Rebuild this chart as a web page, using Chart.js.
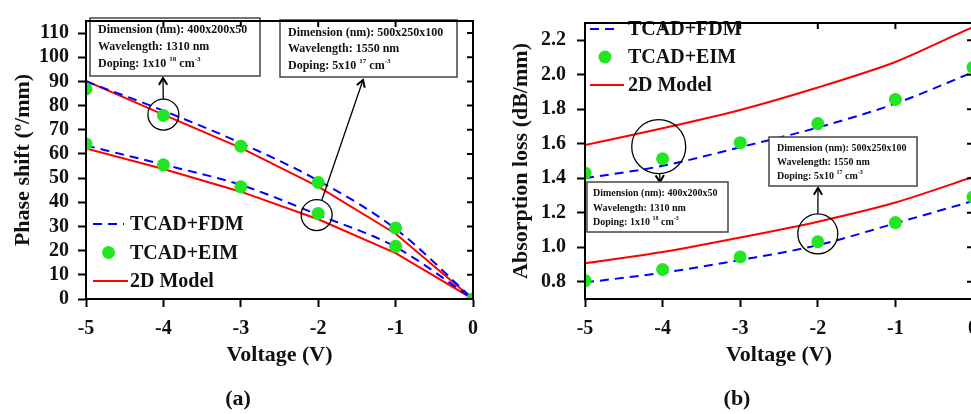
<!DOCTYPE html>
<html><head><meta charset="utf-8">
<script src="https://cdn.jsdelivr.net/npm/chart.js@4/dist/chart.umd.min.js"></script>
<style>
html,body{margin:0;padding:0;background:#fff;overflow:hidden;width:971px;height:414px;position:relative;}
#wa{position:absolute;left:0;top:0;width:490px;height:414px;}
#wb{position:absolute;left:490px;top:0;width:500px;height:414px;}
canvas{display:block;}
</style></head><body>
<div id="wa"><canvas id="ca" width="490" height="414"></canvas></div>
<div id="wb"><canvas id="cb" width="500" height="414"></canvas></div>
<script>
// ---------- data ----------
const voltages = [-5, -4, -3, -2, -1, 0];
const xTickLabels = ['-5', '-4', '-3', '-2', '-1', '0'];

// (a) Phase shift (deg/mm)
const phaseFDM1310   = [90.0, 77.9, 64.5, 49.0, 29.0, 0];
const phaseEIM1310   = [86.9, 75.9, 63.2, 48.2, 29.4, 0];
const phaseModel1310 = [90.2, 76.3, 62.5, 46.5, 27.0, 0];
const phaseFDM1550   = [63.5, 55.6, 47.2, 34.8, 21.5, 0];
const phaseEIM1550   = [64.1, 55.5, 46.4, 35.4, 21.8, 0];
const phaseModel1550 = [62.3, 53.8, 44.4, 33.0, 19.0, 0];

// (b) Absorption loss (dB/mm)
const lossFDM1310   = [1.400, 1.472, 1.580, 1.694, 1.833, 2.015];
const lossEIM1310   = [1.430, 1.513, 1.606, 1.717, 1.857, 2.043];
const lossModel1310 = [1.593, 1.690, 1.796, 1.926, 2.074, 2.278];
const lossFDM1550   = [0.796, 0.852, 0.926, 1.012, 1.139, 1.268];
const lossEIM1550   = [0.806, 0.871, 0.944, 1.032, 1.143, 1.291];
const lossModel1550 = [0.907, 0.972, 1.056, 1.148, 1.259, 1.407];

const seriesNames = ['TCAD+FDM', 'TCAD+EIM', '2D Model'];
const phaseTicks = [0, 10, 20, 30, 40, 50, 60, 70, 80, 90, 100, 110];
const lossTicks = [0.8, 1.0, 1.2, 1.4, 1.6, 1.8, 2.0, 2.2];

// ---------- styles ----------
const FONT = "'Liberation Serif','Times New Roman',serif";
const RED = '#ff0000', BLUE = '#0000ff', GREEN = '#22e622';
const DASH = [9, 6];

const pts = arr => voltages.map((v, i) => ({x: v, y: arr[i]}));
function eim(arr) {
  return {label: seriesNames[1], data: pts(arr), showLine: false, pointRadius: 6.5,
    pointBackgroundColor: GREEN, pointBorderColor: GREEN, pointBorderWidth: 0, clip: 0};
}
function fdm(arr) {
  return {label: seriesNames[0], data: pts(arr), borderColor: BLUE, borderWidth: 2,
    borderDash: DASH, pointRadius: 0, cubicInterpolationMode: 'monotone', fill: false, clip: 0};
}
function model(arr, tension) {
  return {label: seriesNames[2], data: pts(arr), borderColor: RED, borderWidth: 2,
    pointRadius: 0, tension: tension, fill: false, clip: 0};
}

function drawRich(ctx, x, y, parts, size) {
  let cx = x;
  for (const [t, sup] of parts) {
    const s = sup ? Math.round(size * 0.62) : size;
    ctx.font = `bold ${s}px ${FONT}`;
    ctx.fillText(t, cx, sup ? y - size * 0.36 : y);
    cx += ctx.measureText(t).width;
  }
}
function arrowHead(ctx, x1, y1, x2, y2, len) {
  const ang = Math.atan2(y2 - y1, x2 - x1);
  ctx.beginPath();
  ctx.moveTo(x2 - len * Math.cos(ang - 0.55), y2 - len * Math.sin(ang - 0.55));
  ctx.lineTo(x2, y2);
  ctx.lineTo(x2 - len * Math.cos(ang + 0.55), y2 - len * Math.sin(ang + 0.55));
  ctx.stroke();
}

const decorPlugin = {
  id: 'decor',
  afterDatasetsDraw(chart, args, o) {
    const {ctx, chartArea: a, scales: {x, y}} = chart;
    ctx.save();
    // annotation circles + arrows
    ctx.strokeStyle = '#000';
    for (const c of o.circles) {
      const cx = x.getPixelForValue(c.x), cy = y.getPixelForValue(c.y);
      ctx.lineWidth = 1.3;
      ctx.beginPath(); ctx.arc(cx, cy, c.r, 0, Math.PI * 2); ctx.stroke();
      const ang = Math.atan2(c.ty - cy, c.tx - cx);
      const sx = cx + c.r * Math.cos(ang), sy = cy + c.r * Math.sin(ang);
      ctx.lineWidth = c.w || 1.3;
      ctx.beginPath(); ctx.moveTo(sx, sy); ctx.lineTo(c.tx, c.ty); ctx.stroke();
      ctx.lineWidth = 2;
      arrowHead(ctx, sx, sy, c.tx, c.ty, 8);
    }
    // boxes
    for (const b of o.boxes) {
      ctx.fillStyle = '#fff';
      ctx.fillRect(b.x, b.y, b.w, b.h);
      ctx.strokeStyle = '#444'; ctx.lineWidth = 1.5;
      ctx.strokeRect(b.x, b.y, b.w, b.h);
      ctx.fillStyle = '#111'; ctx.textBaseline = 'middle'; ctx.textAlign = 'left';
      drawRich(ctx, b.tx, b.ly[0], [[`Dimension (nm): ${b.dim}`, 0]], b.fs);
      drawRich(ctx, b.tx, b.ly[1], [[`Wavelength: ${b.wl} nm`, 0]], b.fs);
      drawRich(ctx, b.tx, b.ly[2], [['Doping: ' + b.dopA + ' ', 0], [b.dopE, 1], [' cm', 0], ['-3', 1]], b.fs);
    }
    // legend
    const L = o.legend;
    ctx.textBaseline = 'middle'; ctx.textAlign = 'left';
    ctx.font = `bold 20px ${FONT}`; ctx.fillStyle = '#111';
    for (let i = 0; i < 3; i++) {
      const ly = L.y + i * L.dy;
      if (i === 0) {
        ctx.strokeStyle = BLUE; ctx.lineWidth = 2; ctx.setLineDash(DASH);
        ctx.beginPath(); ctx.moveTo(L.x, ly); ctx.lineTo(L.x + L.len, ly); ctx.stroke(); ctx.setLineDash([]);
      } else if (i === 1) {
        ctx.fillStyle = GREEN; ctx.beginPath(); ctx.arc(L.x + L.len / 2, ly, 6.5, 0, Math.PI * 2); ctx.fill();
      } else {
        ctx.strokeStyle = RED; ctx.lineWidth = 2;
        ctx.beginPath(); ctx.moveTo(L.x, ly); ctx.lineTo(L.x + L.len + 4, ly); ctx.stroke();
      }
      ctx.fillStyle = '#111';
      ctx.font = `bold 20px ${FONT}`;
      ctx.fillText(seriesNames[i], L.tx, ly + 1);
    }
    // frame + mirrored ticks
    ctx.strokeStyle = '#000'; ctx.lineWidth = 2;
    ctx.strokeRect(a.left, a.top, a.right - a.left, a.bottom - a.top);
    ctx.beginPath();
    x.ticks.forEach(t => { const px = x.getPixelForValue(t.value); ctx.moveTo(px, a.top); ctx.lineTo(px, a.top + 6); });
    y.ticks.forEach(t => { const py = y.getPixelForValue(t.value); ctx.moveTo(a.right, py); ctx.lineTo(a.right - 6, py); });
    ctx.stroke();
    // panel label
    ctx.fillStyle = '#111'; ctx.textAlign = 'center'; ctx.textBaseline = 'middle';
    ctx.font = `bold 22px ${FONT}`;
    ctx.fillText(o.panel.text, o.panel.x, o.panel.y);
    ctx.restore();
  }
};

function makeChart(id, cfg) {
  return new Chart(document.getElementById(id), {
    type: 'line',
    data: {datasets: cfg.datasets},
    options: {
      responsive: false, animation: false,
      layout: {padding: {left: 0, top: cfg.top, right: 17, bottom: 0}},
      plugins: {legend: {display: false}, tooltip: {enabled: false}, decor: cfg.decor},
      scales: {
        x: {
          type: 'linear', min: -5, max: 0,
          afterFit: s => { s.height = 115; },
          afterBuildTicks: s => { s.ticks = voltages.map(v => ({value: v})); },
          ticks: {autoSkip: false, maxRotation: 0, padding: 10, color: '#111', font: {family: FONT, weight: 'bold', size: 20},
            callback: (v) => xTickLabels[voltages.indexOf(v)] ?? ''},
          grid: {drawOnChartArea: false, drawTicks: true, tickLength: 8, tickWidth: 2, tickColor: '#000'},
          border: {display: true, width: 2, color: '#000'},
          title: {display: true, text: 'Voltage (V)', color: '#111', font: {family: FONT, weight: 'bold', size: 22},
            padding: {top: 0, bottom: 45}}
        },
        y: {
          type: 'linear', min: cfg.ymin, max: cfg.ymax,
          afterFit: s => { s.width = cfg.ywidth; },
          afterBuildTicks: s => { s.ticks = cfg.yticks.map(v => ({value: v})); },
          ticks: {autoSkip: false, padding: cfg.ypad, color: '#111', font: {family: FONT, weight: 'bold', size: 20},
            callback: cfg.yfmt},
          grid: {drawOnChartArea: false, drawTicks: true, tickLength: 8, tickWidth: 2, tickColor: '#000'},
          border: {display: true, width: 2, color: '#000'},
          title: {display: true, text: cfg.ytitle, color: '#111', font: {family: FONT, weight: 'bold', size: 22},
            padding: {top: cfg.ytpad, bottom: 0}}
        }
      }
    },
    plugins: [decorPlugin]
  });
}

makeChart('ca', {
  top: 13, ywidth: 86, ypad: 9, ytpad: 10, ymin: 0, ymax: 115, yticks: phaseTicks,
  yfmt: v => String(v), ytitle: 'Phase shift (\u00BA/mm)',
  datasets: [eim(phaseEIM1310), eim(phaseEIM1550), fdm(phaseFDM1310), fdm(phaseFDM1550),
             model(phaseModel1310, 0), model(phaseModel1550, 0)],
  decor: {
    circles: [
      {x: -4, y: 76.3, r: 15.5, tx: 163, ty: 78},
      {x: -2.02, y: 34.7, r: 15.5, tx: 363, ty: 80}
    ],
    boxes: [
      {x: 90, y: 18, w: 170, h: 58, tx: 98, ly: [30, 47, 64], fs: 12, dim: '400x200x50', wl: '1310', dopA: '1x10', dopE: '18'},
      {x: 280, y: 20, w: 177, h: 57, tx: 288, ly: [33, 49, 66], fs: 12, dim: '500x250x100', wl: '1550', dopA: '5x10', dopE: '17'}
    ],
    legend: {x: 93, len: 31, tx: 130, y: 224, dy: 28.5},
    panel: {text: '(a)', x: 238, y: 399}
  }
});

makeChart('cb', {
  top: 11, ywidth: 95, ypad: 11, ytpad: 18, ymin: 0.7, ymax: 2.3, yticks: lossTicks,
  yfmt: v => v.toFixed(1), ytitle: 'Absorption loss (dB/mm)',
  datasets: [eim(lossEIM1310), eim(lossEIM1550), fdm(lossFDM1310), fdm(lossFDM1550),
             model(lossModel1310, 0.25), model(lossModel1550, 0.25)],
  decor: {
    circles: [
      {x: -4.05, y: 1.583, r: 27, tx: 170, ty: 182},
      {x: -2.0, y: 1.078, r: 20, tx: 328, ty: 188}
    ],
    boxes: [
      {x: 97, y: 182, w: 141, h: 50, tx: 103, ly: [193, 208, 222], fs: 10, dim: '400x200x50', wl: '1310', dopA: '1x10', dopE: '18'},
      {x: 279, y: 137, w: 148, h: 49, tx: 287, ly: [148, 162, 176], fs: 10, dim: '500x250x100', wl: '1550', dopA: '5x10', dopE: '17'}
    ],
    legend: {x: 100, len: 30, tx: 138, y: 29, dy: 28},
    panel: {text: '(b)', x: 247, y: 399}
  }
});
</script>
</body></html>
